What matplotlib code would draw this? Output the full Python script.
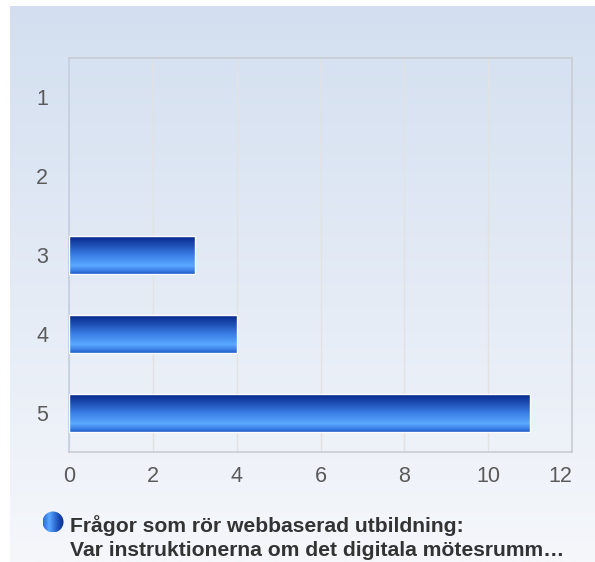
import matplotlib
matplotlib.use("Agg")
import matplotlib.pyplot as plt
import numpy as np
from matplotlib.colors import LinearSegmentedColormap, to_rgb
from matplotlib.patches import Rectangle, Circle

categories = ['1', '2', '3', '4', '5']
values = [0, 0, 3, 4, 11]
xticks = [0, 2, 4, 6, 8, 10, 12]
legend_lines = ['Frågor som rör webbaserad utbildning:',
                'Var instruktionerna om det digitala mötesrumm…']

plt.rcParams['font.family'] = ['Liberation Sans', 'DejaVu Sans']

W, H = 595, 562
fig = plt.figure(figsize=(W / 100, H / 100), dpi=100)
fig.patch.set_facecolor('white')

# background panel with vertical gradient
bg = fig.add_axes([0, 0, 1, 1], zorder=0)
bg.set_xlim(0, W)
bg.set_ylim(H, 0)
bg.axis('off')
top = np.array(to_rgb('#d3dff0'))
bot = np.array(to_rgb('#f5f7fb'))
t = np.linspace(0, 1, 256)[:, None]
grad = top * (1 - t) + bot * t
bg.imshow(grad[:, None, :], extent=(10, W, H, 6), aspect='auto', interpolation='bilinear')
bg.set_xlim(0, W)
bg.set_ylim(H, 0)

# main axes
L, R, T, B = 69, 572, 58, 452
ax = fig.add_axes([L / W, 1 - B / H, (R - L) / W, (B - T) / H], zorder=1)
ax.set_facecolor('none')

bar_cmap = LinearSegmentedColormap.from_list('bar', [
    (0.0, '#08278a'), (0.2, '#1a48ad'), (0.5, '#3a7fe6'),
    (0.78, '#5aa8ff'), (0.9, '#3f84ea'), (1.0, '#1d5cc8')])
bar_img = bar_cmap(np.linspace(0, 1, 128))[:, None, :3]

ypos = np.arange(len(categories))
h = 0.48
for y, v in zip(ypos, values):
    if v <= 0:
        continue
    ax.imshow(bar_img, extent=(0, v, y + h / 2, y - h / 2), aspect='auto',
              interpolation='bilinear', zorder=3)
    ax.add_patch(Rectangle((0, y - h / 2), v, h, facecolor='none',
                           edgecolor='white', lw=1.0, zorder=4))

ax.set_xlim(0, 12)
ax.set_ylim(len(categories) - 0.5, -0.5)
ax.set_aspect('auto')
ax.set_xticks(xticks)
ax.set_xticklabels([str(x) for x in xticks])
ax.get_xticklabels()[-1].set_ha('right')
ax.set_yticks(ypos)
ax.set_yticklabels(categories)
ax.tick_params(axis='both', length=0, labelsize=15.5, labelcolor='#5a5a5a')
ax.tick_params(axis='x', pad=10)
ax.tick_params(axis='y', pad=15)
ax.grid(axis='x', color='#e2e2e2', lw=1, zorder=0)
ax.set_axisbelow(True)
for s in ['top', 'right', 'bottom']:
    ax.spines[s].set_color('#c9ccd2')
    ax.spines[s].set_linewidth(1.2)
ax.spines['left'].set_color('#c3cee2')
ax.spines['left'].set_linewidth(1.2)

# legend marker (gradient circle)
cx, cy, r = 53, 522, 10.5
circ_cmap = LinearSegmentedColormap.from_list('circ', [
    (0.0, '#2a6ad8'), (0.3, '#5aa8ff'), (0.7, '#1f55c0'), (1.0, '#0a2a88')])
circ_img = circ_cmap(np.linspace(0, 1, 128))[None, :, :3]
im = bg.imshow(circ_img, extent=(cx - r, cx + r, cy + r, cy - r), aspect='auto',
               interpolation='bilinear', zorder=5)
clip = Circle((cx, cy), r, transform=bg.transData, facecolor='none', edgecolor='none')
bg.add_patch(clip)
im.set_clip_path(clip)
bg.set_xlim(0, W)
bg.set_ylim(H, 0)

baselines = [531.5, 556.5]
for line, bl in zip(legend_lines, baselines):
    fig.text(70 / W, 1 - bl / H, line, ha='left', va='baseline',
             fontsize=15.2, fontweight='bold', color='#333333')

fig.savefig('out.png', dpi=100)
